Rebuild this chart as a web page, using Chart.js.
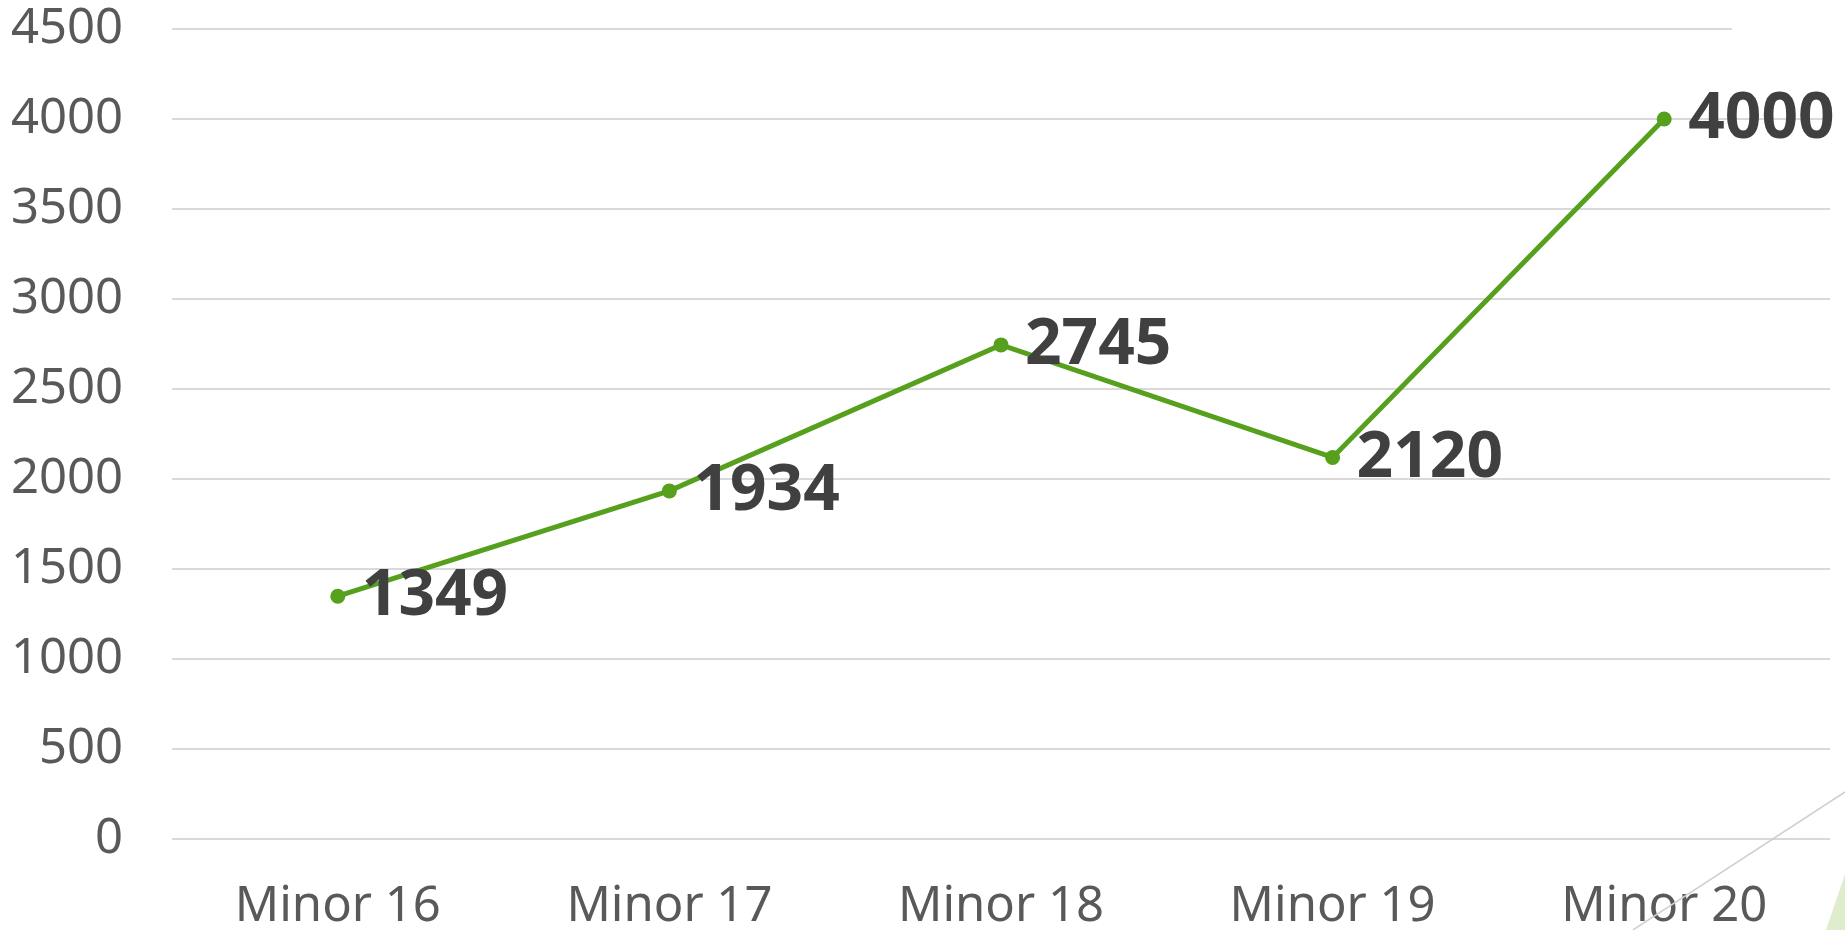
<!DOCTYPE html>
<html>
<head>
<meta charset="utf-8">
<script src="https://cdn.jsdelivr.net/npm/chart.js@4"></script>
<style>
  html, body { margin: 0; padding: 0; background: #fff; }
  #wrap { width: 1845px; height: 930px; position: relative; }
</style>
</head>
<body>
<div id="wrap"><canvas id="minor-chart"></canvas></div>
<script>
const categories = ["Minor 16", "Minor 17", "Minor 18", "Minor 19", "Minor 20"];
const values = [1349, 1934, 2745, 2120, 4000];
const yTicks = [0, 500, 1000, 1500, 2000, 2500, 3000, 3500, 4000, 4500];

const lineColor = "#56a01e";

// value labels to the right of each point
const valueLabels = {
  id: "valueLabels",
  afterDatasetsDraw(chart) {
    const ctx = chart.ctx;
    const meta = chart.getDatasetMeta(0);
    ctx.save();
    ctx.font = "bold 64px 'Noto Sans'";
    ctx.fillStyle = "#404040";
    ctx.textAlign = "left";
    ctx.textBaseline = "middle";
    meta.data.forEach((pt, i) => {
      ctx.fillText(values[i], pt.x + 24, pt.y + 1);
    });
    ctx.restore();
  }
};

// slide decorations in the lower right corner + short top gridline
const decor = {
  id: "decor",
  beforeDatasetsDraw(chart) {
    const ctx = chart.ctx;
    ctx.save();
    ctx.fillStyle = "#fff";
    ctx.fillRect(1732, 0, chart.width - 1732, 60);
    ctx.restore();
  },
  afterDraw(chart) {
    const ctx = chart.ctx;
    const w = chart.width, h = chart.height;
    ctx.save();
    ctx.strokeStyle = "#d0d0d0";
    ctx.lineWidth = 1.5;
    ctx.beginPath();
    ctx.moveTo(w, 792);
    ctx.lineTo(1633, h);
    ctx.stroke();
    ctx.fillStyle = "#deedcb";
    ctx.beginPath();
    ctx.moveTo(w, 874);
    ctx.lineTo(1826, h);
    ctx.lineTo(w, h);
    ctx.closePath();
    ctx.fill();
    ctx.restore();
  }
};

new Chart(document.getElementById("minor-chart"), {
  type: "line",
  data: {
    labels: categories,
    datasets: [
      {
        data: values,
        borderColor: lineColor,
        backgroundColor: lineColor,
        borderWidth: 5,
        pointRadius: 7.5,
        pointBackgroundColor: lineColor,
        pointBorderWidth: 0,
        tension: 0,
        fill: false
      }
    ]
  },
  options: {
    responsive: true,
    maintainAspectRatio: false,
    animation: false,
    layout: { padding: { top: 29, right: 15, left: 0, bottom: 0 } },
    plugins: {
      legend: { display: false },
      tooltip: { enabled: false }
    },
    scales: {
      x: {
        offset: true,
        grid: { display: false, drawTicks: false },
        border: { display: false },
        ticks: {
          padding: 39,
          color: "#595959",
          font: { family: "'Noto Sans'", size: 49 },
          maxRotation: 0
        },
        afterFit(scale) {
          scale.height = 91;
          scale.paddingLeft = 0;
          scale.paddingRight = 0;
        }
      },
      y: {
        min: 0,
        max: 4500,
        afterBuildTicks(scale) {
          scale.ticks = yTicks.map(v => ({ value: v }));
        },
        grid: { color: "#d9d9d9", lineWidth: 2, drawTicks: false },
        border: { display: false },
        ticks: {
          padding: 49,
          color: "#595959",
          font: { family: "'Noto Sans'", size: 49 },
          callback: (v) => String(v)
        },
        afterFit(scale) {
          scale.width = 172;
          scale.paddingTop = 0;
          scale.paddingBottom = 0;
        }
      }
    }
  },
  plugins: [valueLabels, decor]
});
</script>
</body>
</html>
